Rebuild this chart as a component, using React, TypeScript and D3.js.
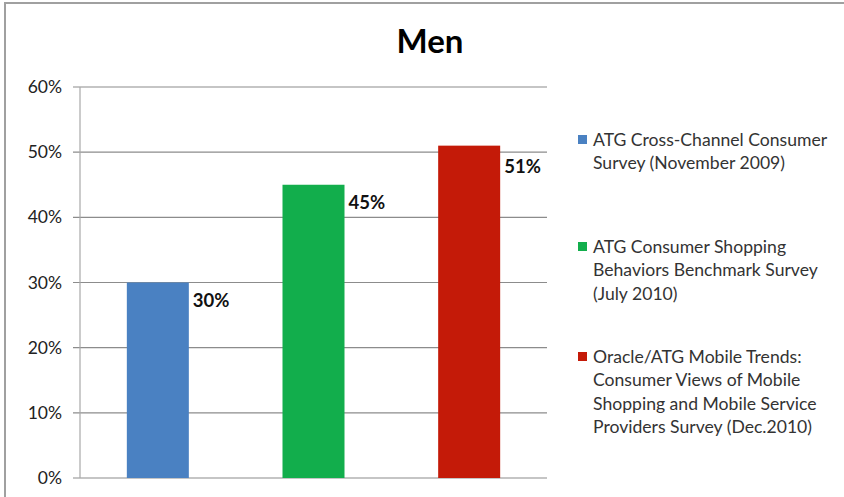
import React from "react";
import * as d3 from "d3";

const categories = [
  "ATG Cross-Channel Consumer Survey (November 2009)",
  "ATG Consumer Shopping Behaviors Benchmark Survey (July 2010)",
  "Oracle/ATG Mobile Trends: Consumer Views of Mobile Shopping and Mobile Service Providers Survey (Dec.2010)",
];
const values = [30, 45, 51];
const colors = ["#4A81C2", "#12AE4C", "#C41A08"];
const yTicks = [0, 10, 20, 30, 40, 50, 60];
const legendLines = [
  ["ATG Cross-Channel Consumer", "Survey (November 2009)"],
  ["ATG Consumer Shopping", "Behaviors Benchmark Survey", "(July 2010)"],
  ["Oracle/ATG Mobile Trends:", "Consumer Views of Mobile", "Shopping and Mobile Service", "Providers Survey (Dec.2010)"],
];
const title = "Men";

const W = 844;
const H = 497;
const plot = { left: 80, right: 547, top: 87, bottom: 478 };
const font = "Lato, 'Open Sans', sans-serif";

export default function App() {
  const x = d3
    .scaleBand<number>()
    .domain(d3.range(categories.length))
    .range([plot.left, plot.right])
    .paddingInner(0.6)
    .paddingOuter(0.3);
  const y = d3.scaleLinear().domain([0, 60]).range([plot.bottom, plot.top]);
  const bw = 62;
  const legendY = [140, 247, 357];
  const lh = 23.3;

  return (
    <div style={{ position: "absolute", left: 0, top: 0 }}>
      <svg width={W} height={H} style={{ display: "block", background: "#fff" }}>
        <rect x={5} y={3} width={W + 10} height={H + 10} fill="#fff" stroke="#a0a0a0" strokeWidth={2} />
        <text x={430} y={53} textAnchor="middle" fontFamily={font} fontWeight="bold" fontSize={33} fill="#000">
          {title}
        </text>
        {yTicks.map((t) => (
          <g key={t}>
            <line x1={73} x2={plot.right} y1={y(t)} y2={y(t)} stroke="#8c8c8c" strokeWidth={1.2} />
            <text x={62} y={y(t) + 6} textAnchor="end" fontFamily={font} fontSize={17.5} fill="#222">
              {t}%
            </text>
          </g>
        ))}
        <line x1={plot.left} x2={plot.left} y1={plot.top} y2={plot.bottom} stroke="#a8a8a8" strokeWidth={1.2} />
        {values.map((v, i) => {
          const cx = (x(i) as number) + x.bandwidth() / 2;
          const bx = cx - bw / 2;
          return (
            <g key={i}>
              <rect x={bx} y={y(v)} width={bw} height={plot.bottom - y(v)} fill={colors[i]} />
              <text x={bx + bw + 4} y={y(v) + 24 + (i === 2 ? 3 : 0)} fontFamily={font} fontWeight="bold" fontSize={18.5} fill="#111">
                {v}%
              </text>
            </g>
          );
        })}
        {legendLines.map((lines, i) => (
          <g key={i}>
            <rect x={578} y={legendY[i] - 5} width={9} height={9} fill={colors[i]} />
            {lines.map((l, j) => (
              <text key={j} x={593} y={legendY[i] + 6 + j * lh} fontFamily={font} fontSize={17.6} fill="#333">
                {l}
              </text>
            ))}
          </g>
        ))}
      </svg>
    </div>
  );
}
